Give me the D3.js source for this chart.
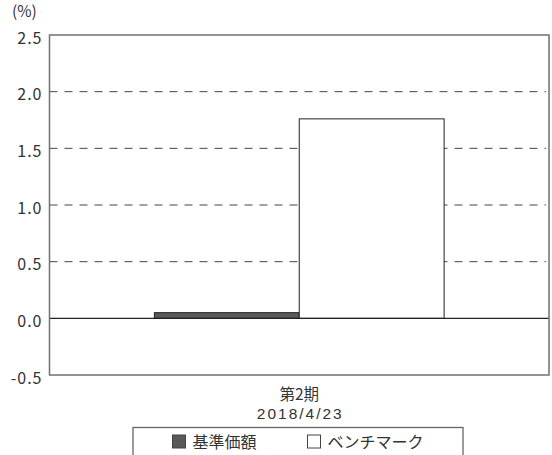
<!DOCTYPE html>
<html><head><meta charset="utf-8">
<script src="https://cdn.jsdelivr.net/npm/d3@7"></script>
<style>body{margin:0;background:#fff}svg{display:block;font-family:"Noto Sans CJK JP","Noto Sans",sans-serif}</style>
</head><body><svg id="c" width="552" height="455"></svg>
<script>
const categories = ["第2期\n2018/4/23"];
const seriesNames = ["基準価額", "ベンチマーク"];
const fundValues = [0.05];
const benchValues = [1.76];
const yTicks = [-0.5, 0.0, 0.5, 1.0, 1.5, 2.0, 2.5];
const yTickLabels = ["-0.5", "0.0", "0.5", "1.0", "1.5", "2.0", "2.5"];
const seriesColors = ["#595959", "#ffffff"];

const svg = d3.select("#c");
const m = {l: 49.5, r: 549, t: 35, b: 375};
const y = d3.scaleLinear().domain([-0.5, 2.5]).range([m.b, m.t]);
const x0 = d3.scaleBand().domain(categories).range([m.l, m.r]).paddingInner(0).paddingOuter(0.362);
const x1 = d3.scaleBand().domain(seriesNames).range([0, x0.bandwidth()]).padding(0);

// gridlines
svg.append("g").selectAll("line").data(yTicks.filter(d => d > 0 && d < 2.5)).join("line")
  .attr("x1", m.l).attr("x2", m.r - 3).attr("y1", d => y(d)).attr("y2", d => y(d))
  .attr("stroke", "#444").attr("stroke-width", 1).attr("stroke-dasharray", "8,7");

// bars
const data = categories.map((c, i) => ({c, vals: [fundValues[i], benchValues[i]]}));
const g = svg.append("g");
data.forEach(d => {
  d.vals.forEach((v, j) => {
    g.append("rect")
      .attr("x", x0(d.c) + x1(seriesNames[j]))
      .attr("y", y(Math.max(0, v)))
      .attr("width", x1.bandwidth())
      .attr("height", Math.abs(y(v) - y(0)))
      .attr("fill", seriesColors[j])
      .attr("stroke", "#222").attr("stroke-width", 1);
  });
});

// zero line
svg.append("line").attr("x1", m.l).attr("x2", m.r).attr("y1", y(0)).attr("y2", y(0))
  .attr("stroke", "#222").attr("stroke-width", 1.2);

// frame
svg.append("rect").attr("x", m.l).attr("y", m.t).attr("width", m.r - m.l).attr("height", m.b - m.t)
  .attr("fill", "none").attr("stroke", "#707070").attr("stroke-width", 1.5);

// y axis labels
const yAxis = d3.axisLeft(y).tickValues(yTicks).tickFormat((d, i) => yTickLabels[i]).tickSize(0).tickPadding(7);
const ya = svg.append("g").attr("transform", `translate(${m.l},0)`).call(yAxis);
ya.select(".domain").remove();
ya.selectAll("text").attr("font-size", 16).attr("dy", "0.5em").attr("letter-spacing", 1)
  .attr("fill", "#333").attr("font-family", "'Noto Sans CJK JP','Noto Sans',sans-serif");

svg.append("text").attr("x", 12).attr("y", 17).attr("font-size", 15.5).attr("fill", "#333").text("(%)");

// category labels
categories.forEach(c => {
  const lines = c.split("\n");
  const cx = x0(c) + x0.bandwidth() / 2;
  svg.append("text").attr("x", cx).attr("y", 399.5).attr("text-anchor", "middle")
    .attr("font-size", 15.5).attr("fill", "#333").text(lines[0]);
  svg.append("text").attr("x", cx + 1).attr("y", 418.5).attr("text-anchor", "middle")
    .attr("font-family", "'Liberation Sans',Arial,sans-serif")
    .attr("font-size", 15.5).attr("letter-spacing", 2).attr("fill", "#333").text(lines[1]);
});

// legend
svg.append("rect").attr("x", 133).attr("y", 427.5).attr("width", 330).attr("height", 40)
  .attr("fill", "none").attr("stroke", "#666").attr("stroke-width", 1.3);
const legX = [172.5, 307.5];
seriesNames.forEach((s, i) => {
  svg.append("rect").attr("x", legX[i]).attr("y", 435).attr("width", 13).attr("height", 13)
    .attr("fill", seriesColors[i]).attr("stroke", "#444").attr("stroke-width", 1);
  svg.append("text").attr("x", legX[i] + 20).attr("y", 447.5).attr("font-size", 16)
    .attr("fill", "#333").text(s);
});
</script></body></html>
